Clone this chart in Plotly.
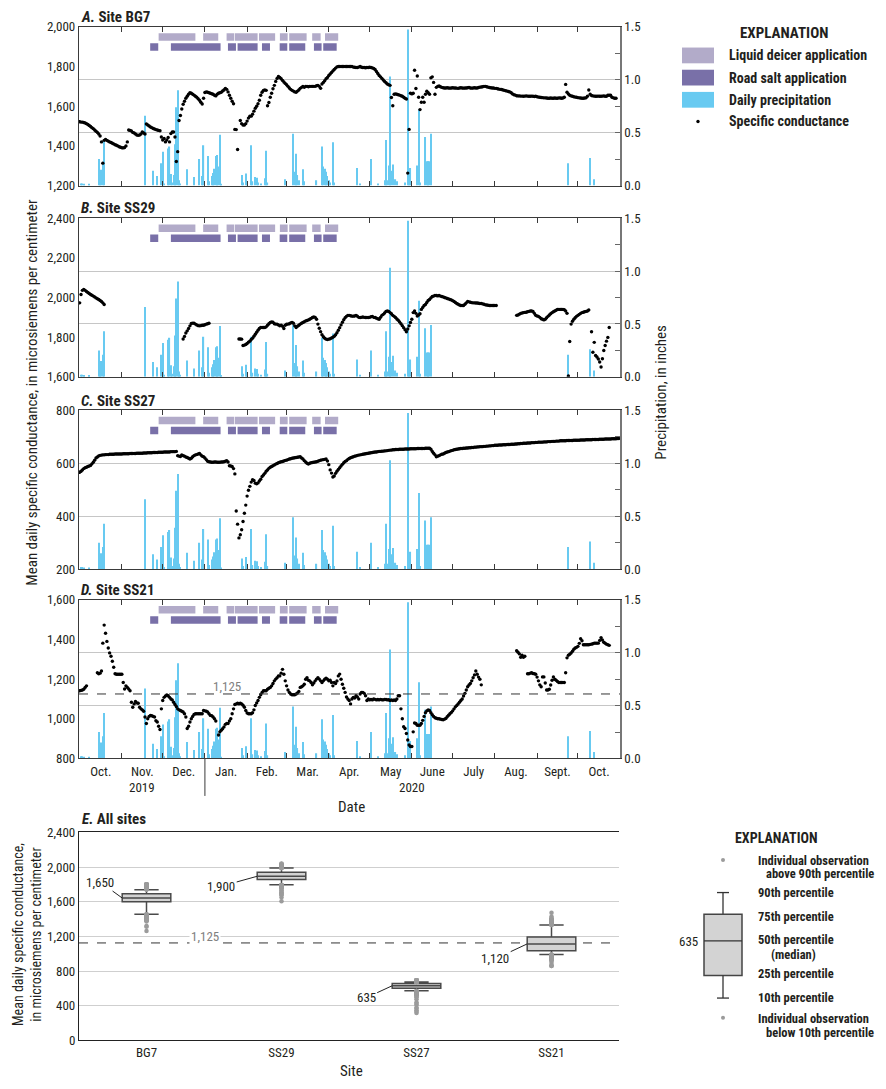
import numpy as np
import pandas as pd
import plotly.graph_objects as go

# page body has an 8 px margin: size the figure so the page is 886 x 1089
OFF = 8
W, H = 886 - 2 * OFF, 1089 - 2 * OFF
FONT = "Liberation Sans Narrow, Arial Narrow, Roboto Condensed, DejaVu Sans Condensed, sans-serif"
DARK = "#231f20"

# ---------------------------------------------------------------- data
start_date = "2019-10-01"   # first daily value

# Mean daily specific conductance (uS/cm), one value per day from start_date
sc_bg7 = [
    1522, 1520, 1520, 1518, 1515, 1512, 1508, 1503, 1498, 1492,
    1487, 1480, 1474, 1468, 1460, 1450, 1420, 1313, 1428, 1432,
    1428, 1424, 1420, 1417, 1413, 1410, 1406, 1403, 1400, 1396,
    1393, 1391, 1390, 1392, 1400, 1420, 1480, 1478, 1475, 1468,
    1465, 1460, 1455, 1453, 1455, 1460, 1470, 1465, 1460, 1510,
    1505, 1500, 1495, 1492, 1488, 1485, 1482, 1480, 1478, 1476,
    1445, 1430, 1437, 1420, 1430, 1442, 1420, 1462, 1470, 1470,
    1445, 1321, 1371, 1528, 1553, 1586, 1610, 1625, 1640, 1650,
    1660, 1668, 1665, 1660, 1656, 1650, 1645, 1638, 1630, 1620,
    1611, 1640, 1669, 1672, 1670, 1668, 1665, 1663, 1660, 1655,
    1652, 1660, 1665, 1668, 1670, 1677, 1682, 1690, 1685, 1672,
    1655, 1640, 1625, 1612, 1483, 1482, 1382, None, 1528, 1512,
    1505, 1505, 1512, 1525, 1540, 1550, 1550, 1560, 1575, 1590,
    1600, 1612, 1630, 1655, 1670, 1680, 1682, 1680, 1602, 1619,
    1645, 1665, 1688, 1705, 1725, 1740, 1750, 1745, 1738, 1730,
    1722, 1715, 1708, 1700, 1692, 1685, 1680, 1676, 1672, 1670,
    1676, 1682, 1690, 1695, 1700, 1695, 1700, 1700, 1698, 1700,
    1700, 1700, 1700, 1700, 1703, 1705, 1700, 1690, 1712, 1720,
    1728, 1738, 1745, 1755, 1762, 1770, 1778, 1785, 1792, 1798,
    1800, 1800, 1800, 1800, 1800, 1800, 1800, 1800, 1800, 1800,
    1800, 1797, 1796, 1795, 1795, 1797, 1800, 1796, 1795, 1795,
    1794, 1795, 1795, 1796, 1795, 1793, 1790, 1785, 1775, 1765,
    1755, 1748, 1740, 1732, 1725, 1718, 1712, 1708, 1705, 1644,
    1602, 1660, 1662, 1660, 1658, 1656, 1653, 1650, 1645, 1640,
    1636, 1263, 1483, 1665, 1662, 1665, 1781, 1689, 1752, 1645,
    1583, 1620, 1645, 1620, 1660, 1675, 1668, 1660, 1743, 1748,
    1720, 1660, 1695, 1700, 1702, 1698, 1695, 1693, 1692, 1692,
    1693, 1692, 1691, 1692, 1693, 1692, 1692, 1691, 1690, 1692,
    1693, 1692, 1691, 1692, 1692, 1693, 1694, 1692, 1691, 1692,
    1693, 1692, 1692, 1694, 1696, 1697, 1698, 1700, 1700, 1698,
    1696, 1694, 1693, 1692, 1692, 1690, 1690, 1688, 1686, 1685,
    1684, 1682, 1680, 1678, 1676, 1674, 1672, 1668, 1662, 1658,
    1656, 1653, 1652, 1652, 1651, 1651, 1650, 1651, 1652, 1651,
    1650, 1650, 1651, 1650, 1649, 1650, 1648, 1646, 1645, 1644,
    1643, 1642, 1642, 1641, 1640, 1640, 1641, 1640, 1640, 1641,
    1640, 1640, 1642, 1641, 1640, 1641, 1645, 1710, 1670, 1662,
    1655, 1652, 1650, 1648, 1646, 1645, 1643, 1642, 1641, 1640,
    1640, 1641, 1642, 1650, 1682, 1660, 1654, 1652, 1651, 1650,
    1650, 1651, 1650, 1650, 1651, 1652, 1650, 1650, 1655, 1655,
    1655, 1645, 1642, 1640, 1640,
]

sc_ss29 = [
    1973, 2015, 2036, 2040, 2036, 2030, 2025, 2020, 2015, 2011,
    2007, 2003, 1998, 1994, 1990, 1985, 1980, 1973, 1965, None,
    None, None, None, None, None, None, None, None, None, None,
    None, None, None, None, None, None, None, None, None, None,
    None, None, None, None, None, None, None, None, None, None,
    None, None, None, None, None, None, None, None, None, None,
    None, None, None, None, None, None, None, None, None, None,
    None, None, None, None, None, None, 1791, 1804, 1821, 1832,
    1844, 1857, 1869, 1871, 1870, 1866, 1862, 1858, 1857, 1858,
    1860, 1860, 1863, 1866, 1868, 1870, None, None, None, None,
    None, None, None, None, None, None, None, None, None, None,
    None, None, None, None, None, None, None, 1791, 1791, 1790,
    1758, 1760, 1763, 1768, 1775, 1780, 1788, 1795, 1805, 1815,
    1825, 1835, 1844, 1849, 1849, 1849, 1849, 1852, 1860, 1868,
    1874, 1877, 1875, 1868, 1866, 1866, 1862, 1857, 1860, 1855,
    1844, 1860, 1865, 1866, 1868, 1872, 1874, 1870, 1857, 1849,
    1855, 1860, 1866, 1870, 1874, 1878, 1882, 1884, 1887, 1890,
    1895, 1899, 1902, 1900, 1890, 1866, 1845, 1828, 1812, 1802,
    1795, 1790, 1788, 1790, 1792, 1796, 1800, 1805, 1812, 1822,
    1835, 1848, 1862, 1875, 1888, 1898, 1905, 1910, 1910, 1908,
    1906, 1906, 1907, 1910, 1906, 1900, 1899, 1900, 1902, 1900,
    1899, 1899, 1899, 1900, 1903, 1905, 1900, 1899, 1896, 1893,
    1890, 1900, 1910, 1915, 1922, 1930, 1932, 1930, 1924, 1918,
    1910, 1905, 1899, 1892, 1885, 1877, 1868, 1858, 1848, 1838,
    1827, 1841, 1857, 1874, 1890, 1924, 1932, 1920, 1907, 1912,
    1918, 1940, 1950, 1960, 1965, 1975, 1985, 1990, 1998, 2005,
    2007, 2010, 2010, 2008, 2010, 2007, 2005, 2003, 2000, 1998,
    1995, 1993, 1990, 1988, 1984, 1980, 1975, 1970, 1966, 1962,
    1960, 1960, 1960, 1966, 1973, 1980, 1978, 1976, 1974, 1973,
    1973, 1972, 1972, 1971, 1970, 1970, 1968, 1966, 1963, 1962,
    1961, 1960, 1960, 1960, 1960, 1960, 1960, None, None, None,
    None, None, None, None, None, None, None, None, None, None,
    None, 1910, 1912, 1916, 1920, 1922, 1924, 1925, 1926, 1928,
    1930, 1932, 1932, 1930, 1920, 1910, 1907, 1905, 1900, 1893,
    1890, 1887, 1890, 1898, 1905, 1912, 1918, 1924, 1928, 1932,
    1936, 1940, 1940, 1940, 1940, 1940, 1938, 1932, 1920, 1605,
    1778, 1866, 1880, 1890, 1898, 1905, 1910, 1915, 1920, 1924,
    1926, 1928, 1930, 1932, 1937, None, 1827, 1724, 1774, 1708,
    1700, 1690, 1675, 1650, 1691, 1733, 1758, 1780, 1799, 1849,
]

sc_ss27 = [
    566, 570, 575, 580, 583, 585, 588, 590, 592, 598,
    604, 612, 620, 624, 628, 630, 631, 632, 632, 633,
    633, 633, 634, 634, 634, 634, 635, 635, 635, 635,
    635, 635, 636, 636, 636, 636, 636, 637, 637, 637,
    637, 637, 638, 638, 638, 638, 638, 639, 639, 639,
    640, 640, 640, 640, 641, 641, 641, 641, 642, 642,
    642, 642, 643, 643, 643, 643, 643, 644, 644, 644,
    644, 645, 629, 627, 626, 632, 629, 627, 624, 622,
    619, 616, 619, 625, 629, 632, 633, 635, 637, 632,
    627, 625, 620, 614, 608, 606, 605, 604, 604, 605,
    605, 604, 604, 604, 605, 605, 606, 608, 610, 605,
    591, 590, 588, 580, 560, 420, 370, 318, 330, 349,
    380, 411, 442, 476, 498, 513, 529, 538, 535, 525,
    523, 526, 533, 540, 550, 556, 562, 570, 575, 581,
    585, 588, 591, 594, 597, 599, 602, 604, 606, 607,
    609, 611, 612, 614, 616, 617, 619, 620, 621, 622,
    623, 624, 625, 620, 616, 610, 605, 600, 597, 600,
    602, 603, 604, 605, 606, 608, 610, 612, 613, 614,
    615, 616, 609, 595, 575, 563, 548, 552, 562, 570,
    577, 583, 590, 596, 602, 607, 610, 615, 618, 621,
    623, 625, 627, 628, 630, 631, 632, 633, 634, 635,
    636, 637, 638, 639, 640, 641, 642, 643, 643, 644,
    645, 645, 646, 646, 647, 647, 648, 649, 650, 650,
    651, 651, 652, 652, 652, 653, 653, 653, 653, 654,
    654, 654, 654, 655, 655, 655, 655, 655, 656, 656,
    656, 656, 656, 656, 657, 657, 657, 657, 653, 645,
    638, 632, 625, 627, 629, 632, 634, 635, 638, 641,
    643, 644, 646, 648, 649, 651, 652, 653, 654, 655,
    656, 656, 657, 657, 658, 658, 659, 659, 660, 660,
    661, 661, 662, 662, 663, 663, 663, 664, 664, 665,
    665, 666, 666, 667, 667, 668, 668, 668, 669, 669,
    669, 670, 670, 670, 671, 671, 671, 672, 672, 672,
    673, 673, 674, 674, 675, 675, 676, 676, 676, 677,
    677, 677, 678, 678, 678, 679, 679, 680, 680, 680,
    680, 681, 681, 681, 682, 682, 682, 683, 683, 683,
    684, 684, 684, 685, 685, 685, 685, 685, 686, 686,
    686, 686, 686, 687, 687, 687, 687, 687, 688, 688,
    688, 688, 689, 689, 689, 689, 689, 690, 690, 690,
    690, 690, 691, 691, 691, 691, 692, 692, 692, 692,
    692, 693, 693, 693, 693, 694, 694,
]

sc_ss21 = [
    1141, 1143, 1145, 1149, 1158, 1166, None, None, None, None,
    None, None, None, 1232, 1227, 1230, 1241, 1381, 1472, 1431,
    1390, 1357, 1332, 1315, 1290, 1260, 1227, 1224, 1224, 1224,
    1224, 1224, 1183, 1150, 1166, 1158, 1150, 1141, 1083, 1058,
    1075, 1087, 1080, 1078, 1058, 1050, 1045, 1038, 1009, 976,
    1000, 1012, 1017, 1015, 1012, 1009, 990, 984, 962, 946,
    1050, 1092, 1108, 1115, 1120, 1116, 1108, 1100, 1095, 1083,
    1072, 1062, 1050, 1045, 1042, 1038, 1034, 1025, 1009, 951,
    962, 984, 1000, 1012, 1022, 1025, 1025, 1025, 1025, 1025,
    1025, 1042, 1040, 1038, 1034, 1025, 1017, 1015, 1009, 1000,
    989, None, 918, 934, 942, 950, 959, 972, 976, 976,
    989, 1000, 1025, 1050, 1072, 1075, 1078, 1075, 1078, 1075,
    1068, 1058, 1042, 1029, 1025, 1025, 1025, 1030, 1045, 1067,
    1080, 1092, 1108, 1121, 1133, 1141, 1141, 1141, 1149, 1154,
    1158, 1166, 1178, 1191, 1200, 1207, 1216, 1216, 1230, 1249,
    1224, 1191, 1166, 1145, 1133, 1125, 1121, 1121, 1121, 1125,
    1130, 1138, 1158, 1161, 1166, 1174, 1199, 1207, 1194, 1191,
    1183, 1171, 1180, 1191, 1200, 1207, 1200, 1191, 1183, 1191,
    1199, 1204, 1199, 1191, 1194, 1183, 1166, 1183, 1178, 1190,
    1216, 1225, 1199, 1174, 1154, 1133, 1110, 1100, 1092, 1075,
    1100, 1108, 1105, 1116, 1110, 1100, 1125, 1133, 1133, 1128,
    1116, 1092, 1100, 1095, 1098, 1095, 1100, 1098, 1095, 1097,
    1095, 1098, 1096, 1095, 1098, 1097, 1095, 1096, 1092, 1095,
    1092, 1095, 1092, 1100, 1116, 1116, 1050, 1000, 960, 951,
    926, 893, 868, 860, 860, 934, 979, 976, 967, 967,
    967, 976, 992, 1012, 1030, 1040, 1045, 1042, 1030, 1020,
    1012, 1005, 1003, 1000, 1000, 998, 996, 995, 998, 1002,
    1010, 1018, 1025, 1032, 1040, 1050, 1060, 1067, 1075, 1083,
    1092, 1100, 1115, 1128, 1145, 1161, 1170, 1178, 1191, 1207,
    1221, 1241, 1224, 1210, 1199, 1171, None, None, None, None,
    None, None, None, None, None, None, None, None, None, None,
    None, None, None, None, None, None, None, None, None, None,
    None, 1343, 1335, 1327, 1310, 1320, 1310, 1315, None, 1227,
    1227, 1230, 1232, 1228, 1227, 1224, 1210, 1191, 1171, 1161,
    1211, 1211, 1180, 1145, 1145, 1149, 1170, 1194, 1211, 1199,
    1194, 1188, 1183, 1183, 1183, 1183, 1183, 1232, 1307, 1320,
    1325, 1332, 1340, 1350, 1357, 1360, 1365, 1380, 1403, 1393,
    1373, 1373, 1373, 1373, 1373, 1375, 1376, 1378, 1381, 1381,
    1381, 1381, 1395, 1409, 1397, 1386, 1381, 1376, 1373, 1370,
]

# Daily precipitation (inches): day offset from start_date, amount
precip_day = [1, 2, 3, 7, 14, 15, 16, 17, 18, 48,
              54, 57, 60, 61, 62, 65, 66, 67, 68, 69, 70, 71, 72, 73, 74,
              79, 84, 88, 90, 91, 94, 95, 97, 98, 99, 100, 101, 102, 103, 104,
              119, 120, 122, 123, 126, 127, 129, 130, 131, 133, 136, 137, 138,
              151, 157, 158, 159, 160, 161, 164, 165,
              174, 178, 179, 180, 181, 182, 183, 184, 186, 187,
              204, 206, 214, 219, 224, 225, 226, 227, 228, 229, 230, 232, 233,
              239, 241, 242, 243, 248, 249, 250, 254, 255, 256, 257, 258,
              359, 375, 378]
precip_in = [0.02, 0.02, 0.01, 0.01, 0.25, 0.11, 0.15, 0.21, 0.43, 0.66,
             0.14, 0.09, 0.21, 0.32, 0.02, 0.35, 0.37, 0.11, 0.03, 0.10, 0.39, 0.74, 0.90, 0.05, 0.02,
             0.155, 0.08, 0.25, 0.09, 0.38, 0.28, 0.04, 0.09, 0.12, 0.16, 0.28, 0.29, 0.18, 0.48, 0.01,
             0.10, 0.03, 0.115, 0.03, 0.38, 0.04, 0.08, 0.075, 0.03, 0.02, 0.07, 0.33, 0.03,
             0.06, 0.49, 0.13, 0.30, 0.10, 0.05, 0.155, 0.04,
             0.05, 0.37, 0.18, 0.16, 0.13, 0.09, 0.05, 0.03, 0.41, 0.03,
             0.165, 0.02, 0.25, 0.02, 0.05, 0.43, 0.05, 0.19, 1.03, 0.14, 0.20, 0.06, 0.04,
             0.03, 1.475, 0.09, 0.165, 0.19, 0.72, 0.03, 0.46, 0.23, 0.23, 0.23, 0.49,
             0.21, 0.26, 0.06]

# Application periods
deicer_start = ["2019-11-28", "2019-12-30 17:00", "2020-01-16 22:00", "2020-01-23 00:00",
                "2020-02-09 17:00", "2020-02-25 02:00", "2020-03-02 22:00", "2020-03-19 19:00",
                "2020-03-29 05:00"]
deicer_end = ["2019-12-25", "2020-01-10 19:00", "2020-01-22 12:00", "2020-02-08 17:00",
              "2020-02-21 14:00", "2020-03-01 19:00", "2020-03-15 17:00", "2020-03-26 00:00",
              "2020-04-07 22:00"]
salt_start = ["2019-11-21 19:00", "2019-12-07 00:00", "2020-01-17 22:00", "2020-01-25 00:00",
              "2020-02-11 22:00", "2020-02-24 22:00", "2020-03-02 22:00", "2020-03-21 02:00",
              "2020-03-27 22:00"]
salt_end = ["2019-11-27 17:00", "2020-01-12 12:00", "2020-01-23 19:00", "2020-02-08 17:00",
            "2020-02-17 19:00", "2020-03-01 12:00", "2020-03-14 17:00", "2020-03-26 17:00",
            "2020-04-06 19:00"]

month_labels = ["Oct.", "Nov.", "Dec.", "Jan.", "Feb.", "Mar.", "Apr.", "May",
                "June", "July", "Aug.", "Sept.", "Oct."]

sites = ["BG7", "SS29", "SS27", "SS21"]
panel_letters = ["A.", "B.", "C.", "D."]
sc_ranges = [(1200, 2000), (1600, 2400), (200, 800), (800, 1600)]

# Box-plot statistics (panel E)
box_p10 = [1457, 1795, 574, 993]
box_q1 = [1601, 1856, 601, 1034]
box_med = [1643, 1894, 631, 1114]
box_q3 = [1692, 1940, 658, 1194]
box_p90 = [1738, 1989, 673, 1331]
median_labels = ["1,650", "1,900", "635", "1,120"]
benchmark = 1125

# ---------------------------------------------------------------- helpers
def PX(x):
    return (x - OFF) / W


def PY(y):
    return 1 - (y - OFF) / H


C_DEICER = "#b2abc9"
C_SALT = "#7970a8"
C_PRECIP = "#68caf1"
C_GRID = "#c6c6c6"
C_AXIS = "#3a3a3a"

series = [sc_bg7, sc_ss29, sc_ss27, sc_ss21]
t0 = pd.Timestamp(start_date)
p_dates = t0 + pd.to_timedelta(np.array(precip_day), unit="D")

x_range = ["2019-09-30 12:00", "2020-10-31 22:00"]
month_starts = pd.date_range("2019-10-01", "2020-11-01", freq="MS")
month_mids = [month_starts[k] + (month_starts[k + 1] - month_starts[k]) / 2 for k in range(13)]
minor_vals = list(month_starts[1:13])

panel_px = [(20, 181), (214, 375), (409, 570), (601, 762)]
x_dom = [PX(79), PX(620)]

fig = go.Figure()
layout = {}
annotations = []
shapes = []


def seg_xy(starts, ends, level):
    xs, ys = [], []
    for s, e in zip(starts, ends):
        xs += [s, e, None]
        ys += [level, level, None]
    return xs, ys


for i in range(4):
    xk = "x" if i == 0 else f"x{i + 1}"
    bi, oi = 2 * i + 1, 2 * i + 2
    yb = "y" if bi == 1 else f"y{bi}"
    yo = f"y{oi}"
    vals = series[i]
    dates = t0 + pd.to_timedelta(np.arange(len(vals)), unit="D")

    fig.add_trace(go.Bar(x=p_dates, y=precip_in, xaxis=xk, yaxis=yb,
                         marker=dict(color=C_PRECIP, line=dict(width=0)),
                         width=0.85 * 86400000, showlegend=False))
    xs, ys = seg_xy(deicer_start, deicer_end, 1.404)
    fig.add_trace(go.Scatter(x=xs, y=ys, mode="lines", xaxis=xk, yaxis=yb,
                             line=dict(color=C_DEICER, width=7.5), showlegend=False))
    xs, ys = seg_xy(salt_start, salt_end, 1.309)
    fig.add_trace(go.Scatter(x=xs, y=ys, mode="lines", xaxis=xk, yaxis=yb,
                             line=dict(color=C_SALT, width=7.5), showlegend=False))
    fig.add_trace(go.Scatter(x=dates, y=vals, mode="markers", xaxis=xk, yaxis=yo,
                             marker=dict(size=3.4, color="black"), showlegend=False))

    top, bot = panel_px[i]
    xname = "xaxis" if i == 0 else f"xaxis{i + 1}"
    bname = "yaxis" if bi == 1 else f"yaxis{bi}"
    oname = f"yaxis{oi}"
    layout[xname] = dict(
        domain=x_dom, anchor=yb, type="date", range=x_range,
        tickmode="array", tickvals=month_mids, ticktext=month_labels,
        ticks="", showticklabels=(i == 3), ticklabelstandoff=1,
        tickfont=dict(family=FONT, size=13, color=DARK),
        minor=dict(tickmode="array", tickvals=minor_vals, ticks="inside",
                   ticklen=5, tickwidth=1, tickcolor=C_AXIS, showgrid=False),
        showline=True, linecolor=C_AXIS, linewidth=1, mirror="ticks",
        showgrid=False, zeroline=False, fixedrange=True,
    )
    layout[bname] = dict(
        domain=[PY(bot), PY(top)], anchor=xk, side="right", range=[0, 1.5],
        tickmode="array", tickvals=[0, 0.5, 1.0, 1.5], ticktext=["0.0", "0.5", "1.0", "1.5"],
        ticks="inside", ticklen=5, tickcolor="#666",
        minor=dict(tickmode="array", tickvals=[0.25, 0.75, 1.25], ticks="inside",
                   ticklen=5, tickcolor="#666", showgrid=False),
        tickfont=dict(family=FONT, size=13, color=DARK),
        showgrid=True, gridcolor=C_GRID, gridwidth=1.2,
        showline=True, linecolor="#777", linewidth=1.5, zeroline=False,
    )
    lo, hi = sc_ranges[i]
    layout[oname] = dict(
        overlaying=yb, anchor=xk, side="left", range=[lo, hi],
        tickmode="linear", tick0=lo, dtick=200, tickformat=",d",
        ticks="", tickfont=dict(family=FONT, size=13, color=DARK),
        showgrid=False, showline=True, linecolor=C_AXIS, linewidth=1.2, zeroline=False,
    )
    annotations.append(dict(
        xref="paper", yref="paper", x=PX(79), y=PY(top - 10), xanchor="left", yanchor="middle",
        text=f"<b><i>{panel_letters[i]}</i> Site {sites[i]}</b>", showarrow=False,
        font=dict(family=FONT, size=15, color=DARK)))

# benchmark line in panel D
shapes.append(dict(type="line", xref="x4 domain", x0=0, x1=1, yref="y8", y0=benchmark, y1=benchmark,
                   line=dict(color="#333", width=1, dash="dash"), layer="above"))
annotations.append(dict(xref="paper", yref="paper", x=PX(227), y=PY(689), text=f"{benchmark:,}",
                        showarrow=False, font=dict(family=FONT, size=13, color="#808080")))
# year divider and year labels
shapes.append(dict(type="line", xref="x4", x0="2020-01-01", x1="2020-01-01", yref="paper",
                   y0=PY(762), y1=PY(800), line=dict(color=C_AXIS, width=1)))
yr_split = pd.Timestamp("2020-01-01")
r0, r1 = pd.Timestamp(x_range[0]), pd.Timestamp(x_range[1])
for lab, mid in [("2019", r0 + (yr_split - r0) / 2), ("2020", yr_split + (r1 - yr_split) / 2)]:
    annotations.append(dict(xref="x4", yref="paper", x=mid, y=PY(791), text=lab, showarrow=False,
                            font=dict(family=FONT, size=13, color=DARK)))
annotations.append(dict(xref="paper", yref="paper", x=PX(351), y=PY(811), text="Date",
                        showarrow=False, font=dict(family=FONT, size=15, color=DARK)))
annotations.append(dict(xref="paper", yref="paper", x=PX(32), y=PY(391), textangle=-90,
                        text="Mean daily specific conductance, in microsiemens per centimeter",
                        showarrow=False, font=dict(family=FONT, size=15, color=DARK)))
annotations.append(dict(xref="paper", yref="paper", x=PX(661), y=PY(391), textangle=-90,
                        text="Precipitation, in inches",
                        showarrow=False, font=dict(family=FONT, size=15, color=DARK)))

# ---------------------------------------------------------------- panel E
for k, site in enumerate(sites):
    fig.add_trace(go.Box(
        x=[site], q1=[box_q1[k]], median=[box_med[k]], q3=[box_q3[k]],
        lowerfence=[box_p10[k]], upperfence=[box_p90[k]],
        xaxis="x5", yaxis="y9", width=0.36, whiskerwidth=0.5,
        fillcolor="#d3d3d3", line=dict(color="#4a4a4a", width=1.5),
        boxpoints=False, showlegend=False, hoverinfo="skip"))
    arr = np.array(series[k], dtype=float)
    arr = arr[~np.isnan(arr)]
    out = arr[(arr > box_p90[k]) | (arr < box_p10[k])]
    fig.add_trace(go.Scatter(x=[site] * len(out), y=out, mode="markers", xaxis="x5", yaxis="y9",
                             marker=dict(size=4.5, color="#9b9b9b"), showlegend=False))

label_offsets = [(-22, -16), (-36, 10), (-26, 12), (-32, 15)]
for k in range(4):
    ax_, ay_ = label_offsets[k]
    annotations.append(dict(xref="x5", yref="y9", x=k - 0.18, y=box_med[k], ax=ax_, ay=ay_,
                            text=median_labels[k], showarrow=True, arrowhead=0, arrowwidth=1,
                            arrowcolor="#222", standoff=0,
                            font=dict(family=FONT, size=13, color=DARK)))

shapes.append(dict(type="line", xref="x5 domain", x0=0, x1=1, yref="y9", y0=benchmark, y1=benchmark,
                   line=dict(color="#333", width=1, dash="dash"), layer="below"))
annotations.append(dict(xref="paper", yref="paper", x=PX(205), y=PY(943), text=f"{benchmark:,}",
                        showarrow=False, bgcolor="white", borderpad=1,
                        font=dict(family=FONT, size=13, color="#808080")))

layout["xaxis5"] = dict(domain=[PX(79), PX(619)], anchor="y9", type="category",
                        categoryorder="array", categoryarray=sites, range=[-0.5, 3.5],
                        ticks="", tickfont=dict(family=FONT, size=13, color=DARK),
                        showline=True, linecolor="#222", linewidth=1.2, mirror=True,
                        showgrid=False, zeroline=False)
layout["yaxis9"] = dict(domain=[PY(1048), PY(837)], anchor="x5", range=[0, 2400],
                        tickmode="linear", tick0=0, dtick=400, tickformat=",d", ticks="",
                        tickfont=dict(family=FONT, size=13, color=DARK),
                        showgrid=True, gridcolor="#cfcfcf", gridwidth=1.2,
                        showline=True, linecolor="#222", linewidth=1.2, zeroline=False)
layout["yaxis10"] = dict(overlaying="y9", anchor="x5", side="right", range=[0, 2400],
                         tickmode="array", tickvals=[400, 800, 1200, 1600, 2000],
                         ticks="inside", ticklen=5, tickcolor="#222", showticklabels=False,
                         showgrid=False, showline=True, linecolor="#222", linewidth=1.2,
                         zeroline=False)
annotations.append(dict(xref="paper", yref="paper", x=PX(80), y=PY(823), xanchor="left",
                        text="<b><i>E.</i> All sites</b>", showarrow=False,
                        font=dict(family=FONT, size=15, color=DARK)))
annotations.append(dict(xref="paper", yref="paper", x=PX(351), y=PY(1079), text="Site",
                        showarrow=False, font=dict(family=FONT, size=15, color=DARK)))
annotations.append(dict(xref="paper", yref="paper", x=PX(27), y=PY(941), textangle=-90,
                        text="Mean daily specific conductance,<br>in microsiemens per centimeter",
                        showarrow=False, font=dict(family=FONT, size=14, color=DARK)))

# ---------------------------------------------------------------- explanation (top)
annotations.append(dict(xref="paper", yref="paper", x=PX(784), y=PY(26), text="<b>EXPLANATION</b>",
                        showarrow=False, font=dict(family=FONT, size=15, color=DARK)))
for (y0, y1, col) in [(41, 57, C_DEICER), (63.5, 79.5, C_SALT), (86, 102, C_PRECIP)]:
    shapes.append(dict(type="rect", xref="paper", yref="paper", x0=PX(682), x1=PX(714),
                       y0=PY(y1), y1=PY(y0), fillcolor=col, line=dict(width=0)))
shapes.append(dict(type="circle", xref="paper", yref="paper", x0=PX(696.3), x1=PX(699.7),
                   y0=PY(117.7), y1=PY(114.3), fillcolor="black", line=dict(width=0)))
for yy, txt in [(49, "Liquid deicer application"), (72, "Road salt application"),
                (94, "Daily precipitation"), (116, "Specific conductance")]:
    annotations.append(dict(xref="paper", yref="paper", x=PX(727), y=PY(yy), xanchor="left",
                            text=f"<b>{txt}</b>", showarrow=False,
                            font=dict(family=FONT, size=14, color=DARK)))

# ---------------------------------------------------------------- explanation (box plot)
annotations.append(dict(xref="paper", yref="paper", x=PX(776), y=PY(843), text="<b>EXPLANATION</b>",
                        showarrow=False, font=dict(family=FONT, size=14, color=DARK)))
for yy in (865, 1025):
    shapes.append(dict(type="circle", xref="paper", yref="paper", x0=PX(721), x1=PX(725),
                       y0=PY(yy + 2), y1=PY(yy - 2), fillcolor="#9b9b9b", line=dict(width=0)))
bl = dict(color="#333", width=1.3)
shapes += [
    dict(type="line", xref="paper", yref="paper", x0=PX(723), x1=PX(723), y0=PY(920), y1=PY(898), line=bl),
    dict(type="line", xref="paper", yref="paper", x0=PX(717), x1=PX(729), y0=PY(898), y1=PY(898), line=bl),
    dict(type="rect", xref="paper", yref="paper", x0=PX(704), x1=PX(742), y0=PY(982), y1=PY(920),
         fillcolor="#d3d3d3", line=dict(color="#444", width=1.5)),
    dict(type="line", xref="paper", yref="paper", x0=PX(704), x1=PX(742), y0=PY(947), y1=PY(947), line=bl),
    dict(type="line", xref="paper", yref="paper", x0=PX(723), x1=PX(723), y0=PY(1005), y1=PY(982), line=bl),
    dict(type="line", xref="paper", yref="paper", x0=PX(717), x1=PX(729), y0=PY(1005), y1=PY(1005), line=bl),
]
annotations.append(dict(xref="paper", yref="paper", x=PX(700), y=PY(948), xanchor="right",
                        text="635", showarrow=False, font=dict(family=FONT, size=13, color=DARK)))
for xx, yy, txt in [(756, 865, "Individual observation"), (764, 879, "above 90th percentile"),
                    (756, 898, "90th percentile"), (756, 922, "75th percentile"),
                    (756, 946, "50th percentile"), (769, 961, "(median)"),
                    (756, 980, "25th percentile"), (756, 1004, "10th percentile"),
                    (756, 1026, "Individual observation"), (764, 1040, "below 10th percentile")]:
    annotations.append(dict(xref="paper", yref="paper", x=PX(xx), y=PY(yy), xanchor="left",
                            text=f"<b>{txt}</b>", showarrow=False,
                            font=dict(family=FONT, size=12.5, color=DARK)))

for a in annotations:
    if not a.get("showarrow"):
        a.setdefault("xanchor", "center")
        a.setdefault("yanchor", "middle")

fig.update_layout(
    width=W, height=H, margin=dict(l=0, r=0, t=0, b=0),
    paper_bgcolor="white", plot_bgcolor="white",
    barmode="overlay", showlegend=False,
    annotations=annotations, shapes=shapes,
    font=dict(family=FONT, size=13, color=DARK),
    **layout,
)

fig.write_html("out.html")
